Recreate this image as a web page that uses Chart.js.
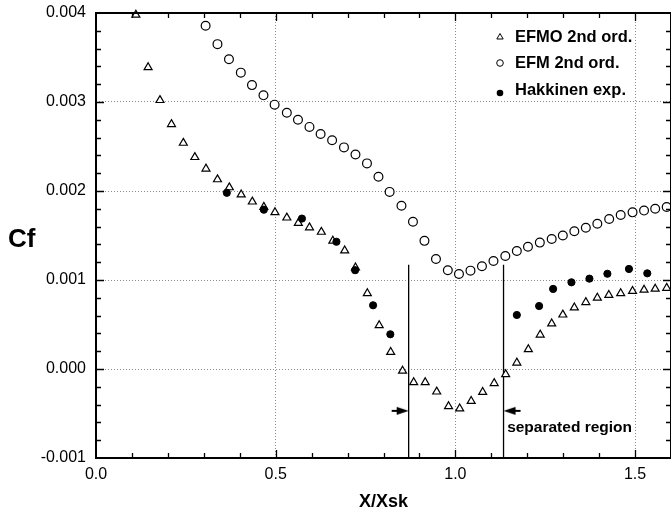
<!DOCTYPE html>
<html lang="en">
<head>
  <meta charset="UTF-8">
  <title>Cf vs X/Xsk</title>
  <script src="https://cdn.jsdelivr.net/npm/chart.js"></script>
  <style>
    body { margin: 0; background: #fff; overflow: hidden; }
    canvas { display: block; }
  </style>
</head>
<body>
  <canvas id="grafico" width="671" height="511"></canvas>

  <script>
    // EFMO 2nd ord. (open triangles)
    const efmoX = [0.111, 0.145, 0.178, 0.210, 0.243, 0.275, 0.306, 0.338, 0.371, 0.404,
      0.435, 0.467, 0.498, 0.531, 0.563, 0.594, 0.627, 0.659, 0.692, 0.722,
      0.755, 0.788, 0.820, 0.853, 0.884, 0.916, 0.948, 0.981, 1.012, 1.044,
      1.076, 1.108, 1.140, 1.171, 1.203, 1.236, 1.268, 1.299, 1.331, 1.363,
      1.395, 1.427, 1.460, 1.493, 1.525, 1.556, 1.588];
    const efmoY = [0.00398, 0.00339, 0.00302, 0.00275, 0.00254, 0.00238, 0.00225, 0.00213, 0.00204, 0.00196,
      0.00188, 0.00182, 0.00176, 0.00170, 0.00164, 0.00159, 0.00154, 0.00144, 0.00133, 0.00114,
      0.00085, 0.00049, 0.00019, -0.00002, -0.00015, -0.00015, -0.000255, -0.00042, -0.000445, -0.00036,
      -0.00026, -0.00016, -0.00006, 0.00007, 0.00022, 0.000385, 0.00051, 0.00061, 0.00069, 0.00075,
      0.00080, 0.00083, 0.00085, 0.000875, 0.00089, 0.00090, 0.00091];

    // EFM 2nd ord. (open circles)
    const efmX = [0.305, 0.338, 0.370, 0.403, 0.434, 0.466, 0.497, 0.531, 0.562, 0.594,
      0.625, 0.657, 0.690, 0.722, 0.754, 0.786, 0.817, 0.850, 0.882, 0.914,
      0.946, 0.979, 1.010, 1.042, 1.074, 1.106, 1.139, 1.171, 1.202, 1.235,
      1.268, 1.299, 1.331, 1.363, 1.395, 1.428, 1.460, 1.493, 1.525, 1.556, 1.588];
    const efmY = [0.003857, 0.00365, 0.00348, 0.00333, 0.00319, 0.003075, 0.00297, 0.00288, 0.00280, 0.00272,
      0.00264, 0.00257, 0.00249, 0.00241, 0.00231, 0.00216, 0.00199, 0.001835, 0.001655, 0.00144,
      0.001236, 0.00111, 0.001067, 0.001105, 0.001154, 0.001213, 0.00127, 0.001326, 0.001374, 0.00142,
      0.00146, 0.00150, 0.001547, 0.001587, 0.001632, 0.001685, 0.00173, 0.00176, 0.00178, 0.00180, 0.00182];

    // Hakkinen exp. (filled circles)
    const hakX = [0.364, 0.467, 0.573, 0.669, 0.721, 0.771, 0.819,
      1.171, 1.233, 1.272, 1.323, 1.373, 1.423, 1.483, 1.534];
    const hakY = [0.00198, 0.00179, 0.00169, 0.00143, 0.00111, 0.000716, 0.00039,
      0.000607, 0.000708, 0.00090, 0.000974, 0.001015, 0.00107, 0.001124, 0.001075];

    // separated region markers
    const sepX = [0.870, 1.134];
    const sepTop = 0.00117;
    const arrowY = -0.00047;
    const sepLabel = 'separated region';
    const sepLabelPos = { x: 1.144, y: -0.00066 };

    const legendLabels = ['EFMO 2nd ord.', 'EFM 2nd ord.', 'Hakkinen exp.'];
    const xMin = 0, xMax = 1.6, yMin = -0.001, yMax = 0.004;

    const FONT = 'Arial, "Liberation Sans", Helvetica, sans-serif';
    const pts = (xs, ys) => xs.map((x, i) => ({ x: x, y: ys[i] }));

    const isMajorX = v => Math.round(v * 10) % 5 === 0;
    const isMajorY = v => Math.round(v * 10000) % 10 === 0;

    // arrow heads as point images, tip at the image centre
    function arrowImg(dir) {
      const c = document.createElement('canvas');
      c.width = 38; c.height = 10;
      const g = c.getContext('2d');
      g.fillStyle = '#000';
      g.beginPath();
      if (dir > 0) {
        g.moveTo(19, 5); g.lineTo(7, 1); g.lineTo(7, 9); g.closePath(); g.fill();
        g.fillRect(2, 4, 6, 2);
      } else {
        g.moveTo(19, 5); g.lineTo(31, 1); g.lineTo(31, 9); g.closePath(); g.fill();
        g.fillRect(30, 4, 6, 2);
      }
      return c;
    }

    const decor = {
      id: 'decor',
      afterDraw(chart) {
        const ctx = chart.ctx;
        const a = chart.chartArea;
        const xs = chart.scales.x, ys = chart.scales.y;
        ctx.save();
        ctx.strokeStyle = '#000';

        // inward ticks on all four sides
        ctx.lineWidth = 1.3;
        xs.ticks.forEach(t => {
          if (t.value <= xMin + 1e-9 || t.value >= xMax - 1e-9) return;
          const p = Math.round(xs.getPixelForValue(t.value)) + 0.5;
          const len = isMajorX(t.value) ? 8 : 5;
          ctx.beginPath();
          ctx.moveTo(p, a.bottom); ctx.lineTo(p, a.bottom - len);
          ctx.moveTo(p, a.top); ctx.lineTo(p, a.top + len);
          ctx.stroke();
        });
        ys.ticks.forEach(t => {
          if (t.value <= yMin + 1e-12 || t.value >= yMax - 1e-12) return;
          const p = Math.round(ys.getPixelForValue(t.value)) + 0.5;
          const len = isMajorY(t.value) ? 8 : 5;
          ctx.beginPath();
          ctx.moveTo(a.left, p); ctx.lineTo(a.left + len, p);
          ctx.moveTo(a.right, p); ctx.lineTo(a.right - len, p);
          ctx.stroke();
        });

        // frame
        ctx.lineWidth = 2;
        ctx.strokeRect(a.left, a.top, a.right - a.left, a.bottom - a.top);

        // Cf label
        ctx.fillStyle = '#000';
        ctx.font = 'bold 26px ' + FONT;
        ctx.textAlign = 'left';
        ctx.textBaseline = 'middle';
        ctx.fillText('Cf', 8, 240);

        // separated region label
        ctx.font = 'bold 15.5px ' + FONT;
        ctx.fillText(sepLabel, xs.getPixelForValue(sepLabelPos.x), ys.getPixelForValue(sepLabelPos.y));

        // legend
        const lx = 500, ly = [37, 63, 90];
        ctx.font = 'bold 16.5px ' + FONT;
        ctx.lineWidth = 1;
        legendLabels.forEach((lab, i) => {
          const y = ly[i];
          ctx.beginPath();
          if (i === 0) {
            ctx.moveTo(lx, y - 3.5); ctx.lineTo(lx + 3.2, y + 2); ctx.lineTo(lx - 3.2, y + 2); ctx.closePath();
            ctx.stroke();
          } else if (i === 1) {
            ctx.arc(lx, y, 3.3, 0, Math.PI * 2);
            ctx.stroke();
          } else {
            ctx.arc(lx, y + 3, 3.3, 0, Math.PI * 2);
            ctx.fill();
          }
          ctx.fillText(lab, 515, y);
        });
        ctx.restore();
      }
    };

    const ctx = document.getElementById('grafico').getContext('2d');
    new Chart(ctx, {
      type: 'scatter',
      data: {
        datasets: [
          {
            label: 'Hakkinen exp.',
            data: pts(hakX, hakY),
            pointStyle: 'circle', pointRadius: 3.6,
            backgroundColor: '#000', borderColor: '#000', borderWidth: 1
          },
          {
            label: 'EFMO 2nd ord.',
            data: pts(efmoX, efmoY),
            pointStyle: 'triangle', pointRadius: 4.6,
            backgroundColor: '#fff', borderColor: '#000', borderWidth: 1.2,
            clip: false
          },
          {
            label: 'EFM 2nd ord.',
            data: pts(efmX, efmY),
            pointStyle: 'circle', pointRadius: 4.4,
            backgroundColor: '#fff', borderColor: '#000', borderWidth: 1.2
          },
          {
            data: [{ x: sepX[0], y: sepTop }, { x: sepX[0], y: yMin }],
            showLine: true, pointRadius: 0, borderColor: '#000', borderWidth: 1.3
          },
          {
            data: [{ x: sepX[1], y: sepTop }, { x: sepX[1], y: yMin }],
            showLine: true, pointRadius: 0, borderColor: '#000', borderWidth: 1.3
          },
          {
            data: [{ x: sepX[0], y: arrowY }],
            pointStyle: arrowImg(1), pointRadius: 5
          },
          {
            data: [{ x: sepX[1], y: arrowY }],
            pointStyle: arrowImg(-1), pointRadius: 5
          }
        ]
      },
      options: {
        responsive: false,
        animation: false,
        devicePixelRatio: 1,
        layout: { autoPadding: false, padding: { top: 13, right: 0, left: 0, bottom: 0 } },
        plugins: { legend: { display: false }, tooltip: { enabled: false } },
        scales: {
          x: {
            type: 'linear', min: xMin, max: xMax,
            afterFit: s => { s.height = 53; s.paddingLeft = 0; s.paddingRight = 0; },
            ticks: {
              stepSize: 0.1, autoSkip: false, maxRotation: 0, padding: 7,
              color: '#000', font: { family: FONT, size: 16 },
              callback: v => isMajorX(v) ? v.toFixed(1) : ''
            },
            grid: {
              drawTicks: false, lineWidth: 1,
              color: c => (c.tick && isMajorX(c.tick.value) && c.tick.value > 0.01 && c.tick.value < 1.59) ? '#8c8c8c' : 'rgba(0,0,0,0)'
            },
            border: { display: false, dash: [1, 2] },
            title: {
              display: true, text: 'X/Xsk', color: '#000',
              font: { family: FONT, size: 18, weight: 'bold' },
              padding: { top: 0, bottom: -2 }
            }
          },
          y: {
            type: 'linear', min: yMin, max: yMax,
            afterFit: s => { s.width = 96; s.paddingTop = 0; s.paddingBottom = 0; },
            ticks: {
              stepSize: 0.0002, autoSkip: false, padding: 10,
              color: '#000', font: { family: FONT, size: 16 },
              callback: v => isMajorY(v) ? (Math.round(v * 1000) / 1000).toFixed(3) : ''
            },
            grid: {
              drawTicks: false, lineWidth: 1,
              color: c => (c.tick && isMajorY(c.tick.value) && c.tick.value > -0.00099 && c.tick.value < 0.00399) ? '#8c8c8c' : 'rgba(0,0,0,0)'
            },
            border: { display: false, dash: [1, 2] }
          }
        }
      },
      plugins: [decor]
    });
  </script>
</body>
</html>
